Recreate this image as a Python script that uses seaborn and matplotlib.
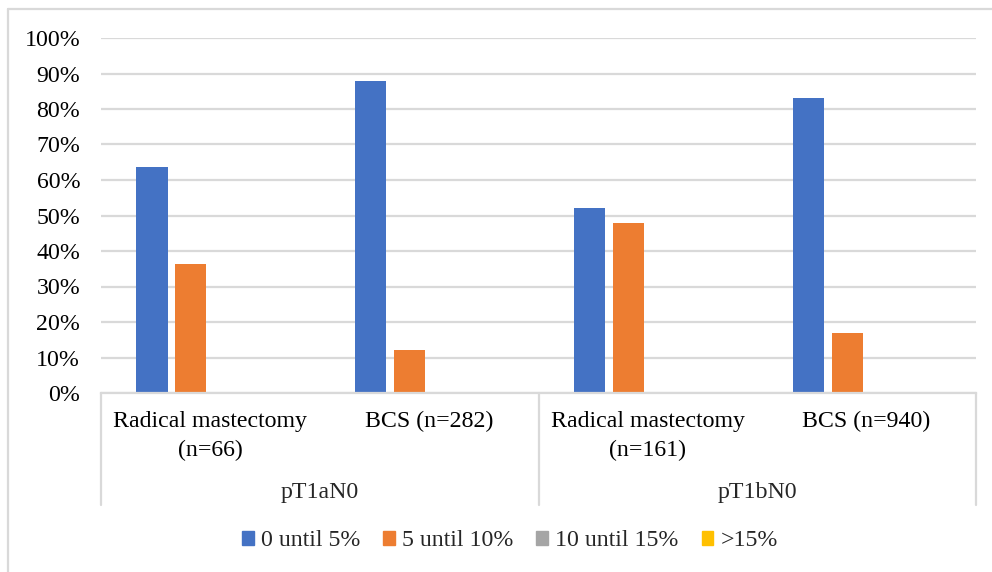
import numpy as np
import pandas as pd
import matplotlib
matplotlib.use('Agg')
import matplotlib.pyplot as plt
import matplotlib.patches as mpatches
import matplotlib.transforms as mtrans
from matplotlib.lines import Line2D
import seaborn as sns

#### DATA

categories = ['Radical mastectomy\n(n=66)', 'BCS (n=282)',
              'Radical mastectomy\n(n=161)', 'BCS (n=940)']
groups = ['pT1aN0', 'pT1bN0']
series = ['0 until 5%', '5 until 10%', '10 until 15%', '>15%']

vals_0_5 = [63.6, 87.9, 52.2, 83.1]
vals_5_10 = [36.4, 12.1, 47.8, 16.9]
vals_10_15 = [0, 0, 0, 0]
vals_15 = [0, 0, 0, 0]

yticks = [0, 10, 20, 30, 40, 50, 60, 70, 80, 90, 100]

colors = ['#4472C4', '#ED7D31', '#A5A5A5', '#FFC000']
grid_col = '#D9D9D9'

df = pd.DataFrame({
    'category': categories * 4,
    'series': np.repeat(series, len(categories)),
    'value': vals_0_5 + vals_5_10 + vals_10_15 + vals_15,
})

#### PLOT

sns.set_style("white")
plt.rcParams['font.family'] = ['Liberation Serif', 'DejaVu Serif']
fs = 17.2

fig = plt.figure(figsize=(9.92, 5.72), dpi=100)
W, H = 992, 572
ax = fig.add_axes([101 / W, 1 - 393 / H, (976 - 101) / W, (393 - 38) / H])

sns.barplot(data=df, x='category', y='value', hue='series', order=categories,
            hue_order=series, palette=colors, width=0.712, gap=0.2,
            linewidth=0, saturation=1, errorbar=None, legend=False, ax=ax)

ax.set_xlim(-0.5, len(categories) - 0.5)
ax.set_ylim(0, 100)
ax.set_yticks(yticks)
ax.set_yticklabels([f'{t}%' for t in yticks], fontsize=fs)
ax.set_xticks(range(len(categories)))
ax.set_xticklabels(categories, fontsize=fs, linespacing=1.5)
ax.tick_params(axis='both', length=0, colors='black')
ax.tick_params(axis='y', pad=15)
ax.tick_params(axis='x', pad=13)
ax.set_xlabel('')
ax.set_ylabel('')

ax.yaxis.grid(True, color=grid_col, linewidth=1.6)
ax.set_axisbelow(True)
for s in ['top', 'right', 'left']:
    ax.spines[s].set_visible(False)
ax.spines['bottom'].set_color(grid_col)
ax.spines['bottom'].set_linewidth(1.6)

# multi-level category axis
trans = mtrans.blended_transform_factory(ax.transData, ax.transAxes)
for xb in [-0.5, 1.5, 3.5]:
    ax.plot([xb, xb], [0, -0.315], transform=trans, color=grid_col,
            lw=1.6, clip_on=False)
for i, g in enumerate(groups):
    ax.text(2 * i + 0.5, -0.279, g, transform=trans, ha='center',
            va='center', fontsize=fs)

# legend
handles = [mpatches.Patch(color=c, label=s) for c, s in zip(colors, series)]
fig.legend(handles=handles, loc='center', bbox_to_anchor=(510 / W, 1 - 541 / H),
           ncol=4, frameon=False, fontsize=fs, handlelength=0.5,
           handleheight=0.5, handletextpad=0.3, columnspacing=0.95)

# chart area border
fig.add_artist(Line2D([8 / W, 8 / W], [0, 1 - 9 / H], color=grid_col, lw=1.6))
fig.add_artist(Line2D([8 / W, 1], [1 - 9 / H, 1 - 9 / H], color=grid_col, lw=1.6))

plt.savefig('out.png', dpi=100, facecolor='white')
